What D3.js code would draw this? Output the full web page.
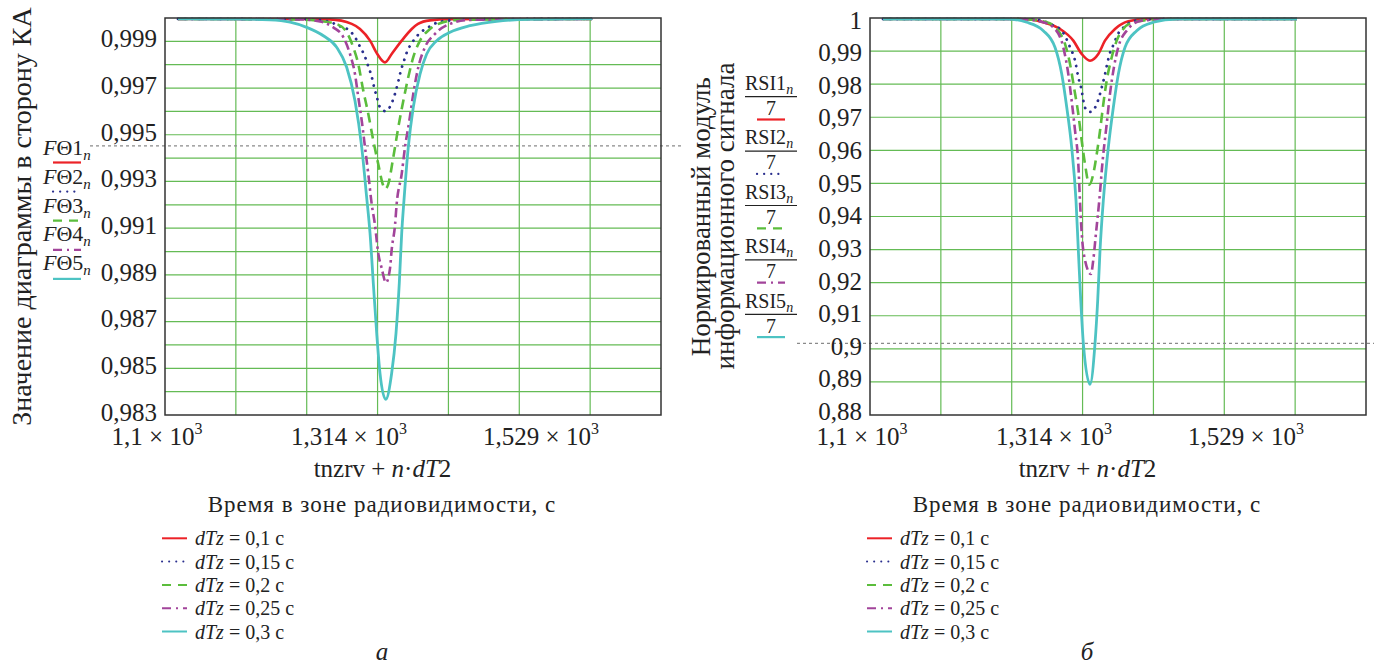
<!DOCTYPE html>
<html><head><meta charset="utf-8">
<script src="https://cdn.jsdelivr.net/npm/d3@7"></script>
<style>
body{margin:0;background:#fff}
svg{display:block}
text{font-family:"Liberation Serif","DejaVu Serif",serif;fill:#222}
</style>
</head><body>
<svg id="c" width="1374" height="666"></svg>
<script>
// ---------- data ----------
const xTickLabels = ["1,1", "1,314", "1,529"];
const yTicksA = [0.983, 0.985, 0.987, 0.989, 0.991, 0.993, 0.995, 0.997, 0.999];
const yTicksB = [1, 0.99, 0.98, 0.97, 0.96, 0.95, 0.94, 0.93, 0.92, 0.91, 0.9, 0.89, 0.88];
const legendLabels = ["0,1", "0,15", "0,2", "0,25", "0,3"];
const thresholdA = 0.99452;
const thresholdB = 0.90167;

// panel a: FΘk_n
const fTheta1 = [[1100,0.99996],[1226,0.99996],[1257.5,0.99994],[1280,0.99975],[1288.6,0.99953],[1299,0.99903],[1306.5,0.99846],[1314.5,0.99810],[1321.4,0.99846],[1331.8,0.99903],[1342.2,0.99953],[1348.7,0.99975],[1361.1,0.99990],[1381.9,0.99995],[1433.7,0.99996],[1529,0.99996]];
const fTheta2 = [[1100,0.99996],[1226.4,0.99995],[1255.7,0.99986],[1266.1,0.99967],[1276.5,0.99950],[1283.4,0.99918],[1288.6,0.99877],[1293.8,0.99834],[1297.2,0.99792],[1300.7,0.99749],[1303.1,0.99706],[1305.9,0.99663],[1309.3,0.99618],[1315,0.99601],[1322.1,0.99642],[1325.6,0.99686],[1328.3,0.99729],[1330.8,0.99772],[1334.2,0.99817],[1337.6,0.99858],[1342.8,0.99896],[1349,0.99929],[1359.4,0.99960],[1369.7,0.99982],[1380.1,0.99989],[1412.9,0.99995],[1529,0.99996]];
const fTheta3 = [[1100,0.99996],[1226.4,0.99994],[1247.1,0.99987],[1264.4,0.99974],[1274.8,0.99939],[1281.6,0.99875],[1286.8,0.99803],[1292,0.99689],[1297.2,0.99589],[1302.4,0.99475],[1307.5,0.99375],[1312.7,0.99282],[1314.5,0.99268],[1317.9,0.99289],[1323.1,0.99404],[1328.3,0.99532],[1333.5,0.99646],[1338.6,0.99746],[1343.8,0.99832],[1350.8,0.99903],[1361.1,0.99953],[1374.9,0.99982],[1392.2,0.99992],[1529,0.99996]];
const fTheta4 = [[1100,0.99996],[1226.4,0.99994],[1247.1,0.99985],[1260.9,0.99960],[1271.3,0.99918],[1278.2,0.99846],[1283.4,0.99760],[1286.8,0.99661],[1290.4,0.99560],[1293.8,0.99446],[1297.2,0.99332],[1300.7,0.99204],[1304.1,0.99114],[1307.5,0.98993],[1311.1,0.98928],[1315.5,0.98867],[1319.7,0.98928],[1321.4,0.99007],[1324.9,0.99114],[1326.6,0.99204],[1331.8,0.99332],[1335.2,0.99446],[1339.7,0.99560],[1343.8,0.99675],[1349,0.99789],[1355.9,0.99875],[1366.3,0.99932],[1381.9,0.99975],[1402.6,0.99992],[1529,0.99996]];
const fTheta5 = [[1100,0.99996],[1164.2,0.99995],[1195.3,0.99992],[1216.1,0.99982],[1233.4,0.99960],[1250.6,0.99924],[1264.4,0.99875],[1274.8,0.99789],[1283.4,0.99646],[1290.4,0.99446],[1295.5,0.99232],[1299,0.99078],[1302.4,0.98864],[1305.9,0.98650],[1309.3,0.98479],[1315.2,0.98367],[1321.4,0.98479],[1325.9,0.98650],[1329.3,0.98864],[1331.8,0.99078],[1334.2,0.99221],[1338.6,0.99446],[1343.8,0.99618],[1350.8,0.99760],[1357.7,0.99846],[1368.1,0.99903],[1381.9,0.99939],[1402.6,0.99967],[1430.2,0.99986],[1464.7,0.99994],[1529,0.99996]];

// panel б: RSIk_n / 7
const rsi1 = [[1100,0.9997],[1221,0.9997],[1248.9,0.99962],[1266.1,0.99871],[1283.4,0.99669],[1297.2,0.99315],[1305.9,0.98913],[1314.5,0.98710],[1323.1,0.98913],[1330,0.99315],[1340.4,0.99669],[1354.2,0.99901],[1373.2,0.9997],[1529,0.9997]];
const rsi2 = [[1100,0.9997],[1242,0.9997],[1262.7,0.99941],[1273.1,0.99820],[1285.2,0.99617],[1293.8,0.99116],[1299,0.98710],[1302.4,0.98209],[1305.9,0.97804],[1307.6,0.97501],[1311.1,0.97199],[1315,0.97160],[1321.2,0.97380],[1324.7,0.97683],[1327.4,0.97985],[1329.9,0.98278],[1332.3,0.98611],[1335.1,0.98934],[1339.2,0.99215],[1342.6,0.99466],[1350.6,0.99750],[1360.9,0.99920],[1390.2,0.9997],[1529,0.9997]];
const rsi3 = [[1100,0.9997],[1242,0.9997],[1269.7,0.99871],[1281.7,0.99617],[1288.6,0.99215],[1293.8,0.98611],[1297.9,0.97906],[1302.4,0.97099],[1305.9,0.96292],[1309.3,0.95588],[1313.8,0.94962],[1317.9,0.95285],[1321.5,0.95890],[1324.9,0.96594],[1328.3,0.97401],[1331.8,0.98106],[1337,0.98813],[1342.2,0.99315],[1349,0.99669],[1359.4,0.99871],[1390,0.9997],[1529,0.9997]];
const rsi4 = [[1100,0.9997],[1242,0.9997],[1266.1,0.99871],[1278.2,0.99669],[1286.8,0.99116],[1292,0.98308],[1295.5,0.97501],[1299,0.96594],[1302.4,0.95588],[1304.1,0.94478],[1305.9,0.93493],[1309.3,0.92686],[1315.5,0.92262],[1317.9,0.92686],[1320.7,0.93493],[1324.1,0.94478],[1327.6,0.95687],[1331.8,0.96797],[1335.2,0.97704],[1339.3,0.98511],[1343.8,0.99116],[1352.5,0.99617],[1368.1,0.99920],[1397.4,0.9997],[1529,0.9997]];
const rsi5 = [[1100,0.9997],[1228.2,0.9997],[1248.9,0.99871],[1266.1,0.99617],[1278.2,0.99116],[1285.2,0.98308],[1290.4,0.97302],[1295.5,0.96093],[1300,0.94478],[1302.4,0.92988],[1304.9,0.91476],[1307.6,0.90168],[1314.5,0.88928],[1319.7,0.90168],[1322.5,0.91476],[1324.9,0.92988],[1328.3,0.94478],[1333.5,0.96093],[1338.7,0.97302],[1343.9,0.98308],[1350.8,0.99116],[1362.9,0.99617],[1380.1,0.99871],[1404.4,0.9997],[1529,0.9997]];

// ---------- styles ----------
const styles = [
  {color:"#ec2227", dash:null, cap:"butt", w:2.6},
  {color:"#2a2f8e", dash:"0.1,7", cap:"round", w:2.8},
  {color:"#5bbd3c", dash:"10,6", cap:"butt", w:2.6},
  {color:"#a2449a", dash:"9,4,2.5,4", cap:"butt", w:2.6},
  {color:"#4dc3c3", dash:null, cap:"butt", w:2.8}
];
const legendDash = [null, "0.1,7", "9,7", "9,5,2,5", null];
const gridColor = "#64bb55";

const svg = d3.select("#c");
const TOP = 18, BOTTOM = 415, W = 496;

const panels = [
  {left:165, series:[fTheta1,fTheta2,fTheta3,fTheta4,fTheta5], yDomain:[0.983,1.0], nY:17,
   yTicks:yTicksA, labDomain:[0.983,0.999], labRange:[420.7,47.3],
   fmt:v=>v.toFixed(3).replace(".",","), thr:thresholdA, thrX:[90,683], caption:"а", kind:"F"},
  {left:870, series:[rsi1,rsi2,rsi3,rsi4,rsi5], yDomain:[0.88,1.0], nY:12,
   yTicks:yTicksB, labDomain:[0.88,1.0], labRange:[420,28.5],
   fmt:v=>String(+v.toFixed(2)).replace(".",","), thr:thresholdB, thrX:[797,1374], caption:"б", kind:"R"}
];

panels.forEach(p => {
  const L = p.left;
  const x = d3.scaleLinear().domain([1100,1529]).range([L+13, L+427]);
  const y = d3.scaleLinear().domain(p.yDomain).range([BOTTOM, TOP]);
  const g = svg.append("g");

  // grid
  const gx = d3.scaleLinear().domain([0,7]).range([L, L+W]);
  g.selectAll(null).data(d3.range(1,7)).enter().append("line")
    .attr("x1",d=>gx(d)).attr("x2",d=>gx(d)).attr("y1",TOP).attr("y2",BOTTOM)
    .attr("stroke",gridColor).attr("stroke-width",1.2);
  const step = (p.yDomain[1]-p.yDomain[0])/p.nY;
  g.selectAll(null).data(d3.range(1,p.nY)).enter().append("line")
    .attr("x1",L).attr("x2",L+W).attr("y1",d=>y(p.yDomain[0]+d*step)).attr("y2",d=>y(p.yDomain[0]+d*step))
    .attr("stroke",gridColor).attr("stroke-width",1.2);

  // threshold dotted line
  g.append("line").attr("x1",p.thrX[0]).attr("x2",p.thrX[1]).attr("y1",y(p.thr)).attr("y2",y(p.thr))
    .attr("stroke","#8a8a8a").attr("stroke-width",1.3).attr("stroke-dasharray","3,3");

  // curves
  const line = d3.line().x(d=>x(d[0])).y(d=>y(d[1])).curve(d3.curveMonotoneX);
  p.series.forEach((s,i) => {
    const st = styles[i];
    g.append("path").attr("d",line(s)).attr("fill","none")
      .attr("stroke",st.color).attr("stroke-width",st.w)
      .attr("stroke-linecap",st.cap).attr("stroke-linejoin","round")
      .attr("stroke-dasharray",st.dash);
  });

  // box
  g.append("rect").attr("x",L).attr("y",TOP).attr("width",W).attr("height",BOTTOM-TOP)
    .attr("fill","none").attr("stroke","#333").attr("stroke-width",1.5);

  // y tick labels
  const yl = d3.scaleLinear().domain(p.labDomain).range(p.labRange);
  g.selectAll(null).data(p.yTicks).enter().append("text")
    .attr("x",L-8).attr("y",d=>yl(d)).attr("text-anchor","end")
    .style("font-size","25px").text(p.fmt);

  // x tick labels
  const xl = d3.scalePoint().domain(xTickLabels).range([L-8, L+376]);
  xTickLabels.forEach(lab => {
    const t = g.append("text").attr("x",xl(lab)).attr("y",445).attr("text-anchor","middle").style("font-size","25px");
    t.append("tspan").text(lab);
    t.append("tspan").text(" × 10");
    t.append("tspan").attr("dy",-11).style("font-size","16px").text("3");
  });

  // x axis expression
  const ex = g.append("text").attr("x",L+217.5).attr("y",477).attr("text-anchor","middle").style("font-size","25px");
  ex.append("tspan").text("tnzrv + ");
  ex.append("tspan").style("font-style","italic").text("n");
  ex.append("tspan").text("·");
  ex.append("tspan").style("font-style","italic").text("dT");
  ex.append("tspan").text("2");

  // x axis title
  g.append("text").attr("x",L+217).attr("y",512).attr("text-anchor","middle")
    .style("font-size","23px").style("letter-spacing","1px").text("Время в зоне радиовидимости, с");

  // bottom legend
  legendLabels.forEach((lab,i) => {
    const st = styles[i];
    const ly = 538.3 + i*23.3;
    g.append("line").attr("x1",L-3).attr("x2",L+22).attr("y1",ly).attr("y2",ly)
      .attr("stroke",st.color).attr("stroke-width",2).attr("stroke-linecap",st.cap)
      .attr("stroke-dasharray", legendDash[i]);
    const t = g.append("text").attr("x",L+30).attr("y",ly+7).style("font-size","20px");
    t.append("tspan").style("font-style","italic").text("dTz");
    t.append("tspan").text(" = " + lab + " с");
  });

  // caption
  g.append("text").attr("x",L+217).attr("y",660).attr("text-anchor","middle")
    .style("font-size","25px").style("font-style","italic").text(p.caption);

  // series labels beside the y axis
  if (p.kind === "F") {
    styles.forEach((st,i) => {
      const by = 155 + i*28.8;
      const t = g.append("text").attr("x",43).attr("y",by).style("font-size","22px");
      t.append("tspan").style("font-style","italic").text("F");
      t.append("tspan").text("Θ" + (i+1));
      t.append("tspan").attr("dy",5).style("font-style","italic").style("font-size","15px").text("n");
      const ly = 162.5 + i*29.1;
      g.append("line").attr("x1",53).attr("x2",81).attr("y1",ly).attr("y2",ly)
        .attr("stroke",st.color).attr("stroke-width",2.2).attr("stroke-linecap",st.cap)
        .attr("stroke-dasharray", legendDash[i]);
    });
  } else {
    styles.forEach((st,i) => {
      const o = i*54.4;
      const t = g.append("text").attr("x",745).attr("y",90+o).style("font-size","20px");
      t.append("tspan").text("RSI" + (i+1));
      t.append("tspan").attr("dy",4).style("font-style","italic").style("font-size","14px").text("n");
      g.append("line").attr("x1",745).attr("x2",797).attr("y1",96.7+o).attr("y2",96.7+o)
        .attr("stroke","#222").attr("stroke-width",1.2);
      g.append("text").attr("x",771).attr("y",115+o).attr("text-anchor","middle").style("font-size","20px").text("7");
      const ly = 119.5 + o;
      g.append("line").attr("x1",757).attr("x2",785).attr("y1",ly).attr("y2",ly)
        .attr("stroke",st.color).attr("stroke-width",2.2).attr("stroke-linecap",st.cap)
        .attr("stroke-dasharray", legendDash[i]);
    });
  }
});

// y axis titles
svg.append("text").attr("transform","translate(31,216.5) rotate(-90)").attr("text-anchor","middle")
  .style("font-size","28px").text("Значение диаграммы в сторону КА");
svg.append("text").attr("transform","translate(710,216.7) rotate(-90)").attr("text-anchor","middle")
  .style("font-size","27px").text("Нормированный модуль");
svg.append("text").attr("transform","translate(734,216) rotate(-90)").attr("text-anchor","middle")
  .style("font-size","27px").text("информационного сигнала");
</script>
</body></html>
